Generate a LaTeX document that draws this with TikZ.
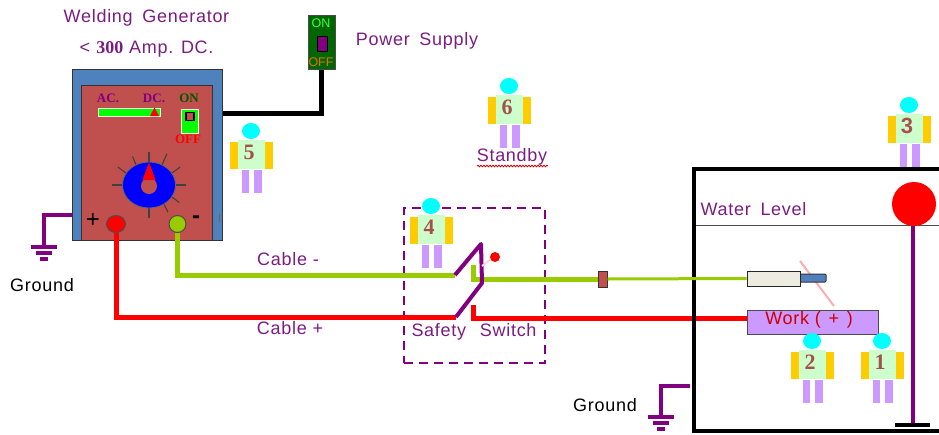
\documentclass[tikz,border=0pt]{standalone}
\usepackage{fontspec}
\setmainfont{Liberation Sans}
\newfontfamily\serifnum{Liberation Serif}
\newfontfamily\spaced[LetterSpace=4]{Liberation Sans}
\usetikzlibrary{decorations.pathmorphing,shapes.geometric}
\definecolor{lblpurple}{HTML}{7B1C83}
\definecolor{wirepurple}{HTML}{800080}
\definecolor{genblue}{HTML}{4F81BD}
\definecolor{genred}{HTML}{C0504D}
\definecolor{olive}{HTML}{99CC00}
\definecolor{skin}{HTML}{CCFFCC}
\definecolor{arm}{HTML}{FFCC00}
\definecolor{leg}{HTML}{CC99FF}
\definecolor{numcol}{HTML}{A5504A}
\definecolor{head}{HTML}{00FFFF}
\definecolor{darkgreen}{HTML}{006600}
\definecolor{holder}{HTML}{EEECE1}
\tikzset{
  x=1pt,y=-1pt,
  lbl/.style={font=\spaced\fontsize{18}{20}\selectfont,text=lblpurple,inner sep=0pt},
  blk/.style={font=\spaced\fontsize{18}{20}\selectfont,text=black,inner sep=0pt},
  num/.style={font=\serifnum\bfseries\fontsize{22}{24}\selectfont,text=numcol,inner sep=0pt},
  tiny/.style={font=\serifnum\bfseries\fontsize{13}{14}\selectfont,inner sep=0pt},
  box/.style={rectangle,inner sep=0pt,minimum width=#1},
  cablered/.style={draw=red,line width=5pt},
  cablegreen/.style={draw=olive,line width=5pt},
  thinwire/.style={draw=olive,line width=3pt},
  pwire/.style={draw=wirepurple,line width=4pt},
  blackwire/.style={draw=black,line width=5pt},
  tick/.style={draw=black!75,line width=1.1pt},
  gbar/.style={draw=wirepurple,line width=3.4pt},
}
\newcommand{\person}[4]{% name, x, y, number
  \begin{scope}[shift={(#2,#3)}]
    \fill[arm] (-21,11) rectangle (-13,38);
    \fill[arm] (14,11) rectangle (22,38);
    \fill[skin] (-13,9) rectangle (14,38);
    \fill[leg] (-9,39) rectangle (-2,62);
    \fill[leg] (3,39) rectangle (11,62);
    \fill[head] (0,0) ellipse [x radius=9,y radius=8];
    \node[num] (#1) at (-2,21) {#4};
  \end{scope}}
\newcommand{\groundbars}[2]{%
  \draw[gbar] (#1-13,#2) -- (#1+13,#2);
  \draw[gbar] (#1-8,#2+6) -- (#1+8,#2+6);
  \draw[gbar] (#1-4,#2+12) -- (#1+4,#2+12);}
\begin{document}
\begin{tikzpicture}
\useasboundingbox (0,0) rectangle (939,434);
\coordinate (pbend) at (321,113);
\coordinate (gbendA) at (44,215);
\coordinate (gfootA) at (44,246);
\coordinate (gbendB) at (661,386);
\coordinate (gfootB) at (661,416);
\coordinate (gstartB) at (690,386);
% generator
\node[box=150pt,draw=black!80,fill=genblue,line width=1pt,minimum height=171pt] (gen) at (147,154.5) {};
\node[box=131pt,draw=black!80,fill=genred,line width=1pt,minimum height=155pt] (panel) at (146.5,162.5) {};
\node[tiny,text=wirepurple] (ac) at (108,98) {AC.};
\node[tiny,text=wirepurple] (dc) at (154,98) {DC.};
\node[tiny,text=darkgreen!85!black] (on) at (189,98) {ON};
\node[box=62pt,draw=holder,fill=green,line width=1pt,minimum height=8pt] (bar) at (129,112) {};
\fill[red] (154.5,107.5) -- (150,116) -- (159,116) -- cycle;
\node[box=17pt,draw=holder,fill=green,line width=1pt,minimum height=24pt] (sw) at (189.5,121) {};
\node[box=8pt,draw=black,fill=genred,line width=1.2pt,minimum height=8pt] (swk) at (190,116.5) {};
\node[tiny,text=red] (off) at (188,139.5) {OFF};
% dial
\foreach \a/\r in {0/37,-30/36,-60/36,-90/33,-120/33,-150/36,-180/37,90/33,55/33,30/35}
  \draw[tick] ({149+25*cos(\a)},{185+22*sin(\a)}) -- ({149+\r*cos(\a)},{185+\r*sin(\a)});
\node[ellipse,draw=black!60,fill=blue,line width=.8pt,inner sep=0pt,minimum width=53pt,minimum height=46pt] (dial) at (149,185) {};
\node[circle,fill=genred,inner sep=0pt,minimum size=16pt] (hub) at (149,186) {};
\fill[red] (149,162.5) -- (142.5,180) -- (155.5,180) -- cycle;
\node[font=\fontsize{24}{24}\selectfont,inner sep=0pt] (plus) at (93,221) {+};
\node[font=\bfseries\fontsize{24}{24}\selectfont,inner sep=0pt] (minus) at (196,220) {-};
\draw[draw=black!60,line width=1pt] (219,214) -- (219,222);
% generator connectors
\draw[blackwire] (gen.east |- pbend) -- (pbend) -- (321,69);
\draw[pwire] (gen.west |- gbendA) -- (gbendA) -- (gfootA);
\groundbars{44}{247}
\node[ellipse,draw=black!70,fill=red,line width=1pt,inner sep=0pt,minimum width=19pt,minimum height=17pt] (tplus) at (116,224) {};
\node[circle,draw=black!70,fill=olive,line width=1pt,inner sep=0pt,minimum size=17pt] (tminus) at (177.5,224) {};
% power supply
\node[box=27pt,draw=black!70,fill=darkgreen,line width=1pt,minimum height=54pt] (psu) at (321.5,42) {};
\node[font=\fontsize{12.5}{13}\selectfont,text=green!75!white,inner sep=0pt] (pon) at (321,23) {ON};
\node[box=10pt,draw=black,fill=wirepurple,line width=1pt,minimum height=15pt] (pkn) at (322,44) {};
\node[font=\fontsize{12.5}{13}\selectfont,text=orange!90!black,inner sep=0pt] (poff) at (321,62) {OFF};
% safety switch
\node[box=141pt,draw=wirepurple,dash pattern=on 9pt off 6pt,line width=2.4pt,minimum height=155pt] (ssw) at (474.5,285.5) {};
\coordinate (gA) at (455,275);
\coordinate (rA) at (456,317);
\coordinate (bladeTop) at (481,244);
\coordinate (bladeBot) at (482,283);
\coordinate (gB) at (473,265);
\coordinate (gC) at (473,279);
\coordinate (rB) at (473,305);
\coordinate (rC) at (473,318);
\node[box=9pt,draw=black!80,fill=genred,line width=1pt,minimum height=16pt] (fuse) at (602.5,279) {};
% cables
\draw[cablegreen] (tminus.south) -- (tminus.south |- gA) -- (gA);
\draw[cablered] (tplus.south) -- (tplus.south |- rA) -- (rA);
\draw[cablegreen] (gB) -- (gC) -- (fuse.west);
\draw[cablered] (rB) -- (rC) -- (747,318);
\draw[pwire,line join=round] (gA) -- (bladeTop) -- (bladeBot) -- (rA);
\draw[draw=pink!60,line width=2pt] (482,266) -- (490,260);
\node[circle,fill=red,inner sep=0pt,minimum size=10pt] (sdot) at (495,257) {};
% tank
\draw[draw=black!70,line width=1pt] (694,225) -- (939,225);
\draw[draw=black,line width=4.4pt] (939,169) -- (694,169) -- (694,431) -- (939,431);
\node[circle,fill=red,inner sep=0pt,minimum size=44pt] (ball) at (914,204) {};
\coordinate (rodfoot) at (913,425);
\draw[draw=wirepurple,line width=3.2pt] (ball.south -| rodfoot) -- (rodfoot);
\draw[draw=black,line width=4pt] (895,425) -- (930,425);
% ground B
\draw[pwire] (gstartB) -- (gbendB) -- (gfootB);
\groundbars{661}{417}
% electrode
\draw[draw=pink!90!red,line width=2pt] (800,261) -- (834,306);
\node[box=26pt,draw=black!80,fill=genblue,line width=1pt,rounded corners=1pt,minimum height=8pt] (tip) at (813,278) {};
\node[box=53pt,draw=black!85,fill=holder,line width=1pt,minimum height=15pt] (elec) at (773.5,278.5) {};
\draw[thinwire] (fuse.east) -- (elec.west);
\node[box=131pt,draw=black!70,fill=leg,line width=1pt,minimum height=24pt] (work) at (812.5,322) {};
\node[font=\spaced\fontsize{18}{20}\selectfont,text=red!80!black,inner sep=0pt] (worklbl) at (809,320) {Work (\hspace{2pt} +\hspace{2pt} )};
% people
\person{pfive}{251}{131}{5}
\person{psix}{509}{86}{6}
\person{pfour}{431}{206}{4}
\person{pthree}{909}{105}{{\rmfamily 3}}
\person{ptwo}{812}{341}{2}
\person{pone}{882}{341}{1}
% labels
\node[lbl] (t1) at (146.5,18) {Welding\hspace{4pt} Generator};
\node[lbl] (t2) at (146.5,49) {< \textbf{\serifnum 300} Amp. DC.};
\node[lbl] (t3) at (417,41) {Power\hspace{4pt} Supply};
\node[lbl] (t4) at (512,157) {Standby};
\draw[draw=red!80!black,line width=.8pt,decorate,decoration={snake,amplitude=.8pt,segment length=3pt}] (477,166) -- (548,166);
\node[lbl] (t5) at (288,259) {Cable -};
\node[lbl] (t6) at (290,328) {Cable +};
\node[lbl] (t7) at (474,332) {Safety\hspace{8pt} Switch};
\node[lbl] (t8) at (753.5,209) {Water\hspace{4pt} Level};
\node[blk] (t9) at (42,285) {Ground};
\node[blk] (t10) at (605,405) {Ground};
\end{tikzpicture}
\end{document}
